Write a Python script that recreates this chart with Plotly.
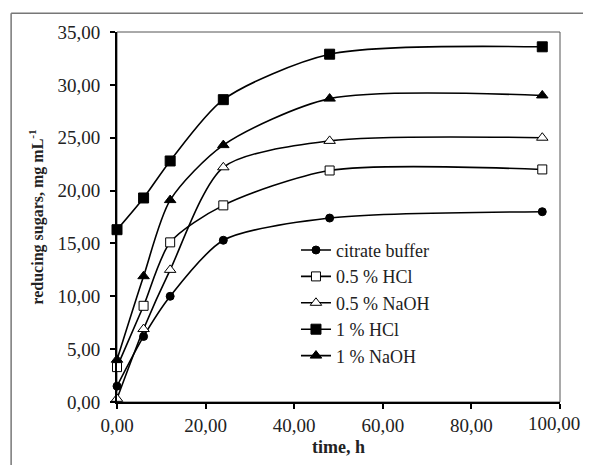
import plotly.graph_objects as go

time_h = [0, 6, 12, 24, 48, 96]
citrate_buffer = [1.5, 6.2, 10.0, 15.3, 17.4, 18.0]
hcl_05 = [3.3, 9.1, 15.1, 18.6, 21.9, 22.0]
naoh_05 = [0.3, 6.9, 12.5, 22.2, 24.7, 25.0]
hcl_1 = [16.3, 19.3, 22.8, 28.6, 32.9, 33.6]
naoh_1 = [4.0, 11.9, 19.1, 24.3, 28.7, 29.0]

x_tickvals = [0, 20, 40, 60, 80, 100]
x_ticktext = ["0,00", "20,00", "40,00", "60,00", "80,00", ""]
last_x_label = "100,00"

series = [
    ("citrate buffer", citrate_buffer, "circle", "black", 8),
    ("0.5 % HCl", hcl_05, "square", "white", 9),
    ("0.5 % NaOH", naoh_05, "triangle-up", "white", 10),
    ("1 % HCl", hcl_1, "square", "black", 10),
    ("1 % NaOH", naoh_1, "triangle-up", "black", 10),
]

FONT = "Liberation Serif"
fig = go.Figure()
for name, vals, sym, fill, size in series:
    fig.add_trace(go.Scatter(
        x=time_h, y=vals, name=name, mode="lines+markers",
        line=dict(color="black", width=1.6, shape="spline", smoothing=0.75),
        marker=dict(symbol=sym, size=size, color=fill, line=dict(color="black", width=1)),
        cliponaxis=False,
    ))

fig.update_layout(
    width=583, height=457,
    margin=dict(l=109, r=31, t=24, b=63),
    paper_bgcolor="white", plot_bgcolor="white",
    separators=", ",
    font=dict(family=FONT, color="#222", size=16),
    showlegend=True,
    legend=dict(x=0.404, y=0.46, xanchor="left", yanchor="top",
                bgcolor="rgba(0,0,0,0)", font=dict(family=FONT, size=18, color="#222"),
                tracegroupgap=0, itemwidth=30),
    xaxis=dict(range=[0, 100], tickvals=x_tickvals, ticktext=x_ticktext,
               showgrid=False, zeroline=False,
               automargin=False, ticklabeloverflow="allow",
               showline=True, linecolor="black", linewidth=2, ticks="outside", ticklen=5,
               tickwidth=2, tickcolor="black",
               tickfont=dict(family=FONT, size=19, color="#222"),
               title=dict(text="<b>time, h</b>", font=dict(family=FONT, size=18, color="#222"), standoff=6)),
    yaxis=dict(range=[0, 35], dtick=5, tickformat=".2f", showgrid=False, zeroline=False,
               automargin=False, ticklabeloverflow="allow",
               showline=True, linecolor="black", linewidth=2, ticks="outside", ticklen=5,
               tickwidth=2, tickcolor="black", ticklabelstandoff=6,
               tickfont=dict(family=FONT, size=19, color="#222"),
               title=dict(text="<b>reducing sugars, mg mL<sup>-1</sup></b>",
                          font=dict(family=FONT, size=16, color="#222"), standoff=10)),
    annotations=[
        dict(text=last_x_label, xref="paper", yref="paper", x=1.05, y=0,
             xanchor="right", yanchor="middle", yshift=-21, showarrow=False,
             font=dict(family=FONT, size=19, color="#222")),
    ],
    shapes=[
        dict(type="rect", xref="paper", yref="paper", x0=0, x1=1, y0=0, y1=1,
             line=dict(color="#555", width=1), layer="below"),
        dict(type="line", xref="paper", yref="paper", x0=-0.239, x1=1.3, y0=1.051, y1=1.051,
             line=dict(color="#777", width=1.5), layer="below"),
        dict(type="line", xref="paper", yref="paper", x0=-0.239, x1=-0.239, y0=-0.4, y1=1.051,
             line=dict(color="#777", width=1.5), layer="below"),
    ],
)

fig.write_html("out.html")
